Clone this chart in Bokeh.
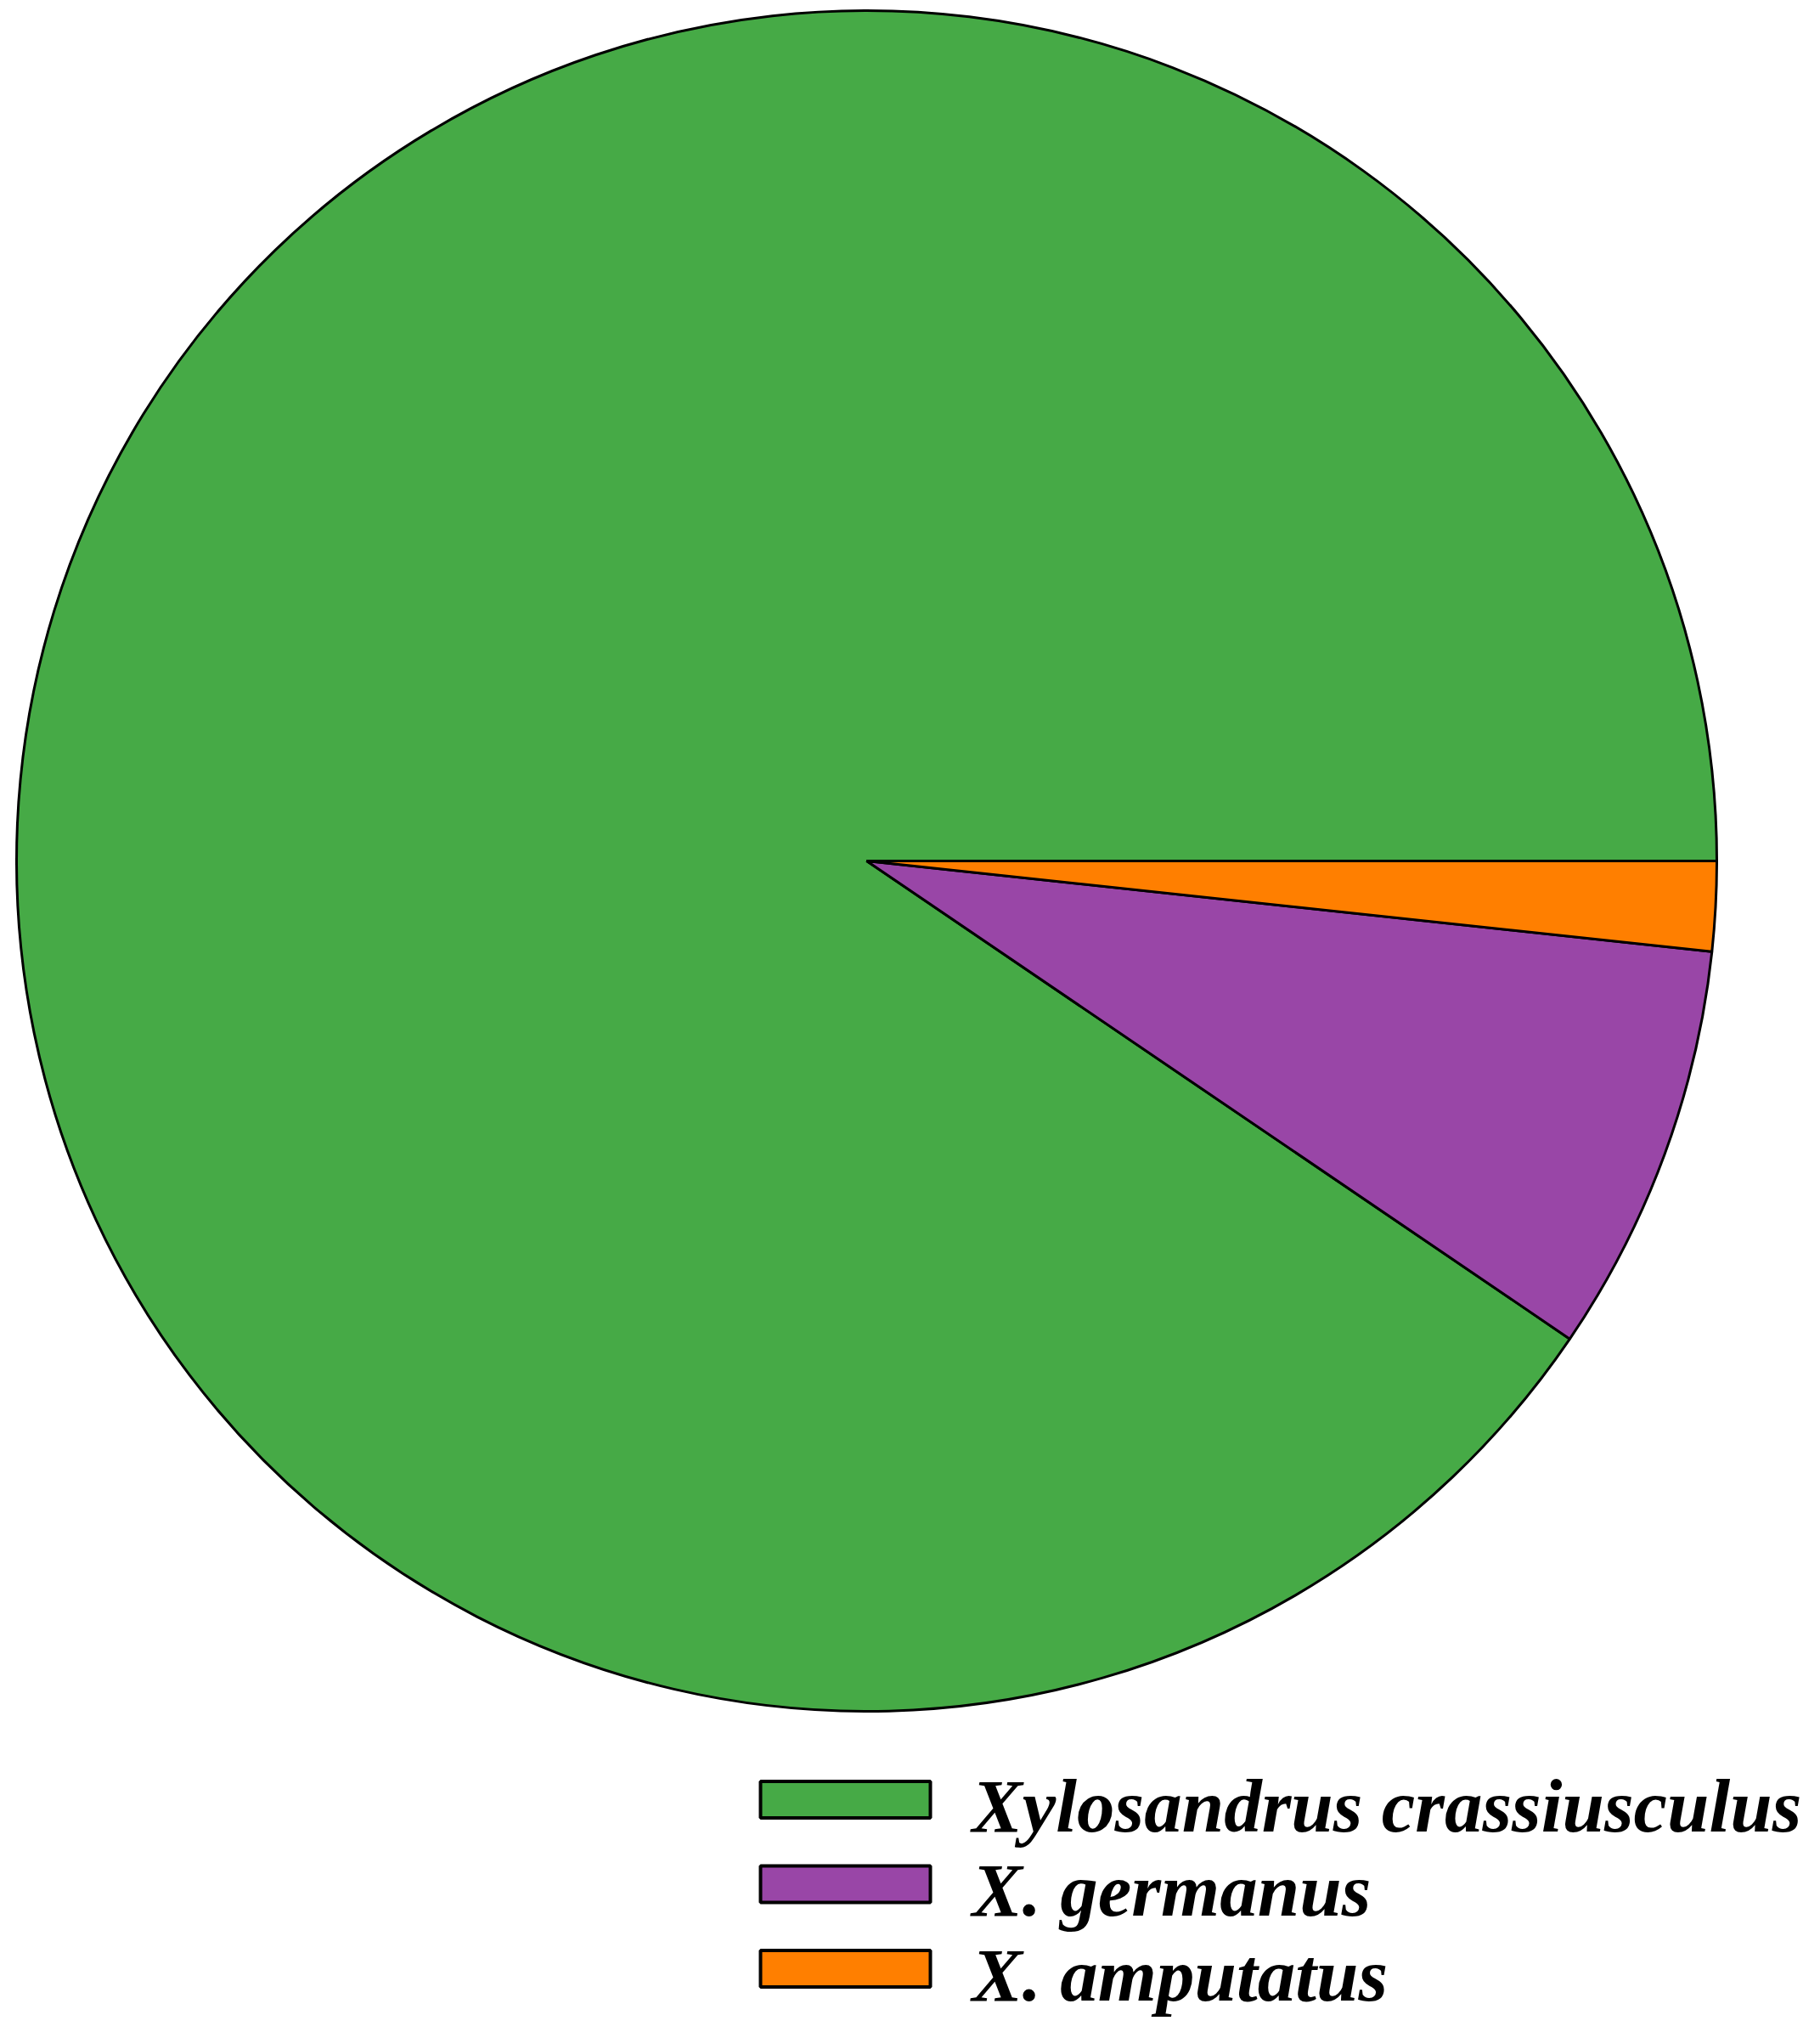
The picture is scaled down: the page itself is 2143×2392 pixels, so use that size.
import math
from bokeh.plotting import figure
from bokeh.models import Range1d, ColumnDataSource
from bokeh.core.properties import value
from bokeh.embed import file_html
from bokeh.resources import INLINE

# ---- data ----
species = ["Xylosandrus crassiusculus", "X. germanus", "X. amputatus"]
shares = [90.5, 7.8, 1.7]          # percent of specimens
colors = ["#46AA46", "#9946A7", "#FF7F00"]

# ---- layout ----
W, H = 2127, 2376
REF_H = 2392
p = figure(width=W, height=H, output_backend="svg", toolbar_location=None,
           x_range=Range1d(0, W), y_range=Range1d(REF_H - H, REF_H),
           min_border=0, outline_line_color=None)
p.axis.visible = False
p.grid.visible = False
p.background_fill_color = "white"
p.border_fill_color = "white"

cx, cy, r = 1020, REF_H - 1013, 1001
total = sum(shares)
starts, ends = [], []
acc = 0.0
for s in shares:
    starts.append(2 * math.pi * acc / total)
    acc += s
    ends.append(2 * math.pi * acc / total)

src = ColumnDataSource(dict(species=species, share=shares, color=colors,
                            start=starts, end=ends))
p.wedge(x=cx, y=cy, radius=r, start_angle="start", end_angle="end",
        fill_color="color", line_color="black", line_width=3, source=src)

# legend (manual)
n = len(species)
box_y = [REF_H - (2118 + 99.5 * i) for i in range(n)]
lsrc = ColumnDataSource(dict(y=box_y, ty=[y - 7 for y in box_y],
                             label=species, color=colors))
p.rect(x=995, y="y", width=200, height=43, fill_color="color",
       line_color="black", line_width=4, source=lsrc)
p.text(x=1144, y="ty", text="label", source=lsrc,
       text_font=value("Liberation Serif"), text_font_style="bold italic",
       text_font_size="89px", text_baseline="alphabetic", text_align="left",
       text_color="black")

open("out.html", "w").write(file_html(p, INLINE))
